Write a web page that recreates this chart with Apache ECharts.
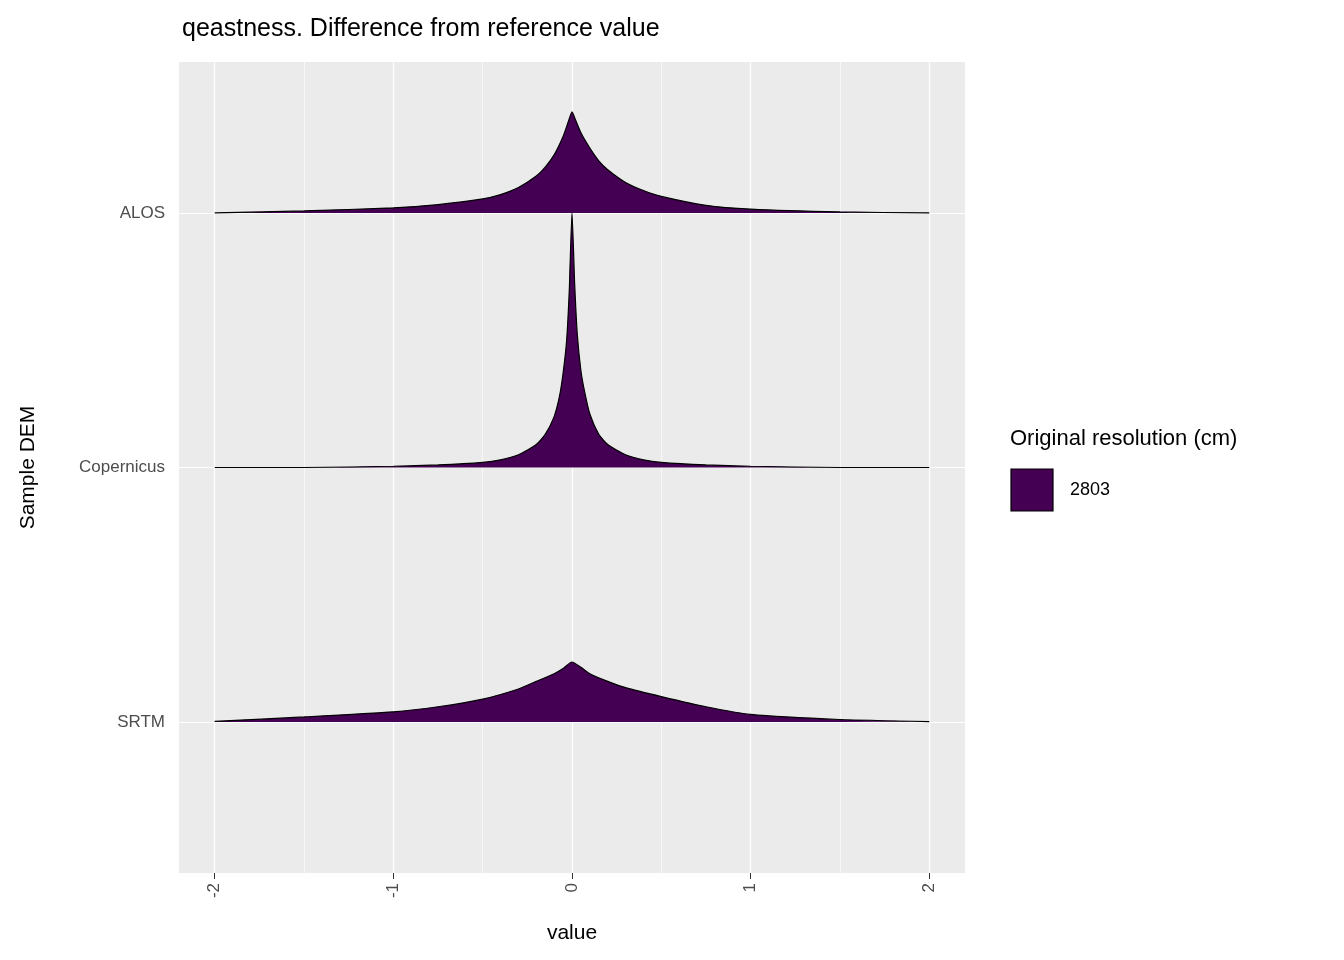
<!DOCTYPE html>
<html>
<head>
<meta charset="utf-8">
<script src="https://cdn.jsdelivr.net/npm/echarts@6/dist/echarts.min.js"></script>
</head>
<body style="margin:0">
<div id="main" style="width:1344px;height:960px;"></div>
<script>
var categories = ['SRTM', 'Copernicus', 'ALOS'];
var xTicks = [-2, -1, 0, 1, 2];
var xMinor = [-1.5, -0.5, 0.5, 1.5];

var alosX = [-2, -1.5, -1, -0.75, -0.5, -0.4, -0.3, -0.2, -0.15, -0.1, -0.05, -0.02, 0, 0.02, 0.05, 0.1, 0.15, 0.2, 0.3, 0.4, 0.5, 0.75, 1, 1.5, 2];
var alosY = [0, 0.008, 0.02, 0.033, 0.055, 0.072, 0.1, 0.145, 0.18, 0.228, 0.3, 0.36, 0.397, 0.365, 0.315, 0.255, 0.205, 0.17, 0.12, 0.088, 0.065, 0.03, 0.015, 0.004, 0];
var copX = [-2, -1.5, -1, -0.75, -0.5, -0.4, -0.3, -0.2, -0.15, -0.1, -0.07, -0.05, -0.03, -0.015, 0, 0.015, 0.03, 0.05, 0.07, 0.1, 0.15, 0.2, 0.3, 0.4, 0.5, 0.75, 1, 1.5, 2];
var copY = [0, 0, 0.005, 0.01, 0.02, 0.03, 0.05, 0.09, 0.13, 0.2, 0.28, 0.37, 0.5, 0.7, 1.0, 0.72, 0.52, 0.38, 0.3, 0.21, 0.13, 0.09, 0.05, 0.03, 0.02, 0.01, 0.005, 0, 0];
var srtmX = [-2, -1.5, -1, -0.75, -0.5, -0.3, -0.2, -0.1, -0.05, 0, 0.05, 0.1, 0.2, 0.3, 0.5, 0.75, 1, 1.5, 2];
var srtmY = [0.003, 0.02, 0.04, 0.06, 0.09, 0.13, 0.16, 0.19, 0.21, 0.236, 0.215, 0.19, 0.16, 0.135, 0.1, 0.06, 0.03, 0.01, 0.002];

var fill = '#440154';
var chart = echarts.init(document.getElementById('main'));

function ridge(xs, ys, base) {
  return {
    type: 'line', symbol: 'none', z: 5, smooth: 0.2,
    data: xs.map(function (x, i) { return [x, base + ys[i]]; }),
    lineStyle: { color: '#000', width: 1.2 },
    areaStyle: { color: fill, opacity: 1, origin: base }
  };
}

var gridLines = [];
xTicks.forEach(function (v) { gridLines.push({ xAxis: v, lineStyle: { width: 1.2 } }); });
xMinor.forEach(function (v) { gridLines.push({ xAxis: v, lineStyle: { width: 0.6 } }); });
categories.forEach(function (c, i) { gridLines.push({ yAxis: i + 1, lineStyle: { width: 1.2 } }); });

chart.setOption({
  animation: false,
  textStyle: { fontFamily: 'Liberation Sans, Arial, sans-serif' },
  title: { text: 'qeastness. Difference from reference value', left: 177, top: 12,
    textStyle: { fontSize: 25, fontWeight: 'normal', color: '#000' } },
  grid: { left: 179, right: 379, top: 62, bottom: 87, show: true, backgroundColor: '#EBEBEB', borderWidth: 0 },
  xAxis: {
    type: 'value', min: -2.2, max: 2.2,
    name: 'value', nameLocation: 'middle', nameGap: 50,
    nameTextStyle: { fontSize: 21, color: '#000' },
    axisLine: { show: false }, splitLine: { show: false },
    axisTick: { show: true, length: 6, lineStyle: { color: '#333' }, customValues: xTicks },
    axisLabel: { rotate: 90, fontSize: 17, color: '#4D4D4D', margin: 10, customValues: xTicks }
  },
  yAxis: {
    type: 'value', min: 0.407, max: 3.593,
    name: 'Sample DEM', nameLocation: 'middle', nameGap: 140,
    nameTextStyle: { fontSize: 21, color: '#000' },
    axisLine: { show: false }, splitLine: { show: false },
    axisTick: { show: true, length: 6, lineStyle: { color: '#333' }, customValues: [1, 2, 3] },
    axisLabel: { fontSize: 17, color: '#4D4D4D', margin: 14, customValues: [1, 2, 3],
      formatter: function (v) { return categories[Math.round(v) - 1]; } }
  },
  series: [
    { type: 'line', data: [], z: 1,
      markLine: { silent: true, symbol: 'none', label: { show: false },
        lineStyle: { color: '#fff', type: 'solid' }, data: gridLines } },
    ridge(alosX, alosY, 3),
    ridge(copX, copY, 2),
    ridge(srtmX, srtmY, 1)
  ],
  graphic: [
    { type: 'text', left: 1010, top: 428, style: { text: 'Original resolution (cm)', fill: '#000', font: '22px Liberation Sans, Arial' } },
    { type: 'rect', shape: { x: 1011, y: 469, width: 42, height: 42 }, style: { fill: fill, stroke: '#000', lineWidth: 1.2 } },
    { type: 'text', left: 1070, top: 481, style: { text: '2803', fill: '#000', font: '18px Liberation Sans, Arial' } }
  ]
});
</script>
</body>
</html>
